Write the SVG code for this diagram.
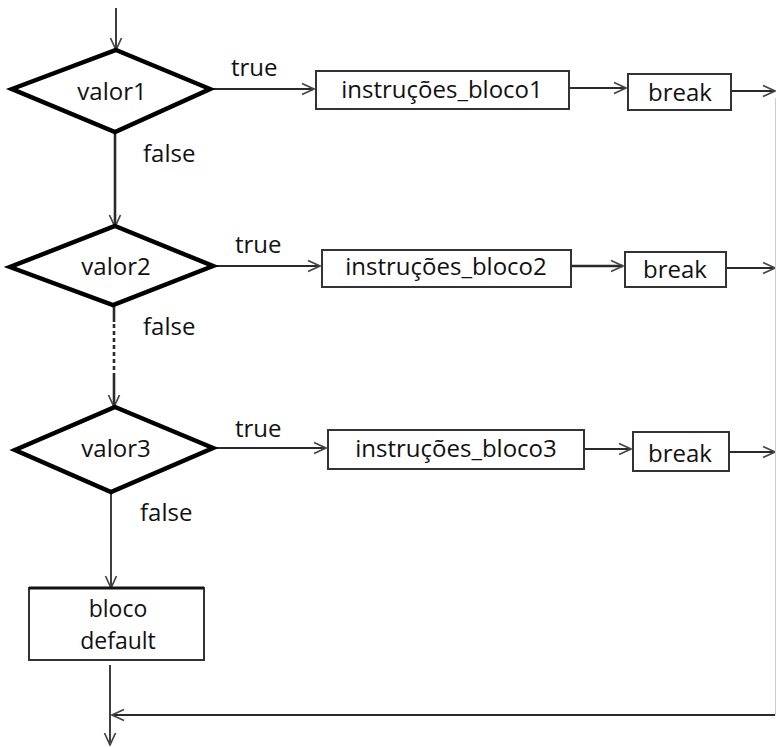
<svg xmlns="http://www.w3.org/2000/svg" width="776" height="747" viewBox="0 0 776 747">
  <defs>
    <marker id="arr" viewBox="0 0 14 14" refX="13" refY="7" markerWidth="14" markerHeight="14" markerUnits="userSpaceOnUse" orient="auto">
      <polyline points="1,1.5 13,7 1,12.5" fill="none" stroke="#444" stroke-width="1.7"/>
    </marker>
  </defs>
  <style>
    text { font-family: "Open Sans", "Noto Sans", sans-serif; font-size: 24px; fill: #111; text-anchor: middle; dominant-baseline: central; }
    .lbl { text-anchor: start; }
    .two { font-size: 23px; }
    .dia { fill: #fff; stroke: #000; stroke-width: 4.5; stroke-linejoin: miter; }
    .box { fill: #fff; stroke: #333; stroke-width: 2; }
    .ln { fill: none; stroke: #2a2a2a; stroke-width: 1.8; }
    .thick { stroke-width: 2.6; }
    .edge { fill: none; stroke: #ccc; stroke-width: 1.2; }
  </style>

  <g id="connectors">
    <!-- entry -->
    <line class="ln" x1="116" y1="8" x2="116" y2="50" marker-end="url(#arr)"/>
    <!-- case 1 -->
    <line class="ln" x1="210" y1="89" x2="314" y2="89" marker-end="url(#arr)"/>
    <line class="ln" x1="569" y1="88" x2="626" y2="88" marker-end="url(#arr)"/>
    <line class="ln" x1="731" y1="91" x2="775" y2="91" marker-end="url(#arr)"/>
    <line class="ln thick" x1="115" y1="132" x2="115" y2="227" marker-end="url(#arr)"/>
    <!-- case 2 -->
    <line class="ln" x1="213" y1="266" x2="320" y2="266" marker-end="url(#arr)"/>
    <line class="ln thick" x1="571" y1="266" x2="623" y2="266" marker-end="url(#arr)"/>
    <line class="ln" x1="726" y1="268" x2="775" y2="268" marker-end="url(#arr)"/>
    <line class="ln thick" x1="114" y1="305" x2="114" y2="322"/>
    <line class="ln thick" x1="114" y1="324" x2="114" y2="372" stroke-dasharray="4 3"/>
    <line class="ln thick" x1="114" y1="373" x2="114" y2="407" marker-end="url(#arr)"/>
    <!-- case 3 -->
    <line class="ln" x1="213" y1="448" x2="326" y2="448" marker-end="url(#arr)"/>
    <line class="ln" x1="584" y1="449" x2="631" y2="449" marker-end="url(#arr)"/>
    <line class="ln" x1="729" y1="452" x2="775" y2="452" marker-end="url(#arr)"/>
    <line class="ln" x1="111" y1="492" x2="111" y2="588" marker-end="url(#arr)"/>
    <!-- default and exit -->
    <line class="ln" x1="110" y1="665" x2="110" y2="745" marker-end="url(#arr)"/>
    <line class="edge" x1="775.5" y1="98" x2="775.5" y2="715"/>
    <line class="ln" x1="775" y1="715" x2="112" y2="715" marker-end="url(#arr)"/>
    <!-- branch labels -->
    <text class="lbl" x="231" y="66">true</text>
    <text class="lbl" x="143" y="152">false</text>
    <text class="lbl" x="235" y="243">true</text>
    <text class="lbl" x="143" y="325">false</text>
    <text class="lbl" x="235" y="427">true</text>
    <text class="lbl" x="140" y="511">false</text>
  </g>

  <g id="valor1">
    <polygon class="dia" points="116,50 210,89 115,132 12,89"/>
    <text x="112" y="90">valor1</text>
  </g>
  <g id="bloco1">
    <rect class="box" x="316" y="71" width="253" height="38"/>
    <text x="442" y="88">instruções_bloco1</text>
  </g>
  <g id="break1">
    <rect class="box" x="628" y="74" width="103" height="36"/>
    <text x="680" y="91">break</text>
  </g>

  <g id="valor2">
    <polygon class="dia" points="115,226 213,266 113,305 10,267"/>
    <text x="116" y="265">valor2</text>
  </g>
  <g id="bloco2">
    <rect class="box" x="322" y="250" width="249" height="37"/>
    <text x="446" y="265">instruções_bloco2</text>
  </g>
  <g id="break2">
    <rect class="box" x="625" y="252" width="101" height="35"/>
    <text x="675" y="268">break</text>
  </g>

  <g id="valor3">
    <polygon class="dia" points="115,407 213,448 111,492 15,450"/>
    <text x="116" y="447">valor3</text>
  </g>
  <g id="bloco3">
    <rect class="box" x="328" y="430" width="256" height="39"/>
    <text x="456" y="447">instruções_bloco3</text>
  </g>
  <g id="break3">
    <rect class="box" x="633" y="432" width="96" height="39"/>
    <text x="680" y="452">break</text>
  </g>

  <g id="default">
    <rect class="box" x="29" y="588" width="175" height="72"/>
    <line x1="29" y1="588" x2="204" y2="588" stroke="#111" stroke-width="3"/>
    <text class="two" x="118" y="608">bloco</text>
    <text class="two" x="118" y="640">default</text>
  </g>
</svg>
